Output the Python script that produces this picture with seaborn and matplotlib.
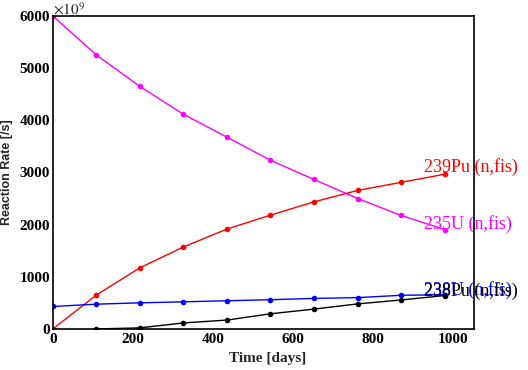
import numpy as np
import pandas as pd
import seaborn as sns
import matplotlib.pyplot as plt
from matplotlib.ticker import MultipleLocator

# burnup steps [days]
days = [0, 109, 217, 326, 435, 543, 652, 761, 870, 978]

# reaction rates in units of 1e9 /s
u235 = [6000, 5250, 4650, 4115, 3675, 3235, 2865, 2500, 2175, 1905]
pu239 = [0, 650, 1170, 1570, 1915, 2180, 2435, 2655, 2810, 2965]
u238 = [430, 475, 500, 520, 540, 560, 585, 600, 645, 655]
pu238_days = days[1:]
pu238 = [0, 20, 115, 170, 290, 380, 480, 555, 640]

names = ['235U (n,fis)', '239Pu (n,fis)', '238U (n,fis)', '238Pu (n,fis)']
colors = ['#ff00ff', '#ff0000', '#0000ff', '#000000']

frames = [
    pd.DataFrame({'Time': days, 'Rate': u235, 'Reaction': names[0]}),
    pd.DataFrame({'Time': days, 'Rate': pu239, 'Reaction': names[1]}),
    pd.DataFrame({'Time': days, 'Rate': u238, 'Reaction': names[2]}),
    pd.DataFrame({'Time': pu238_days, 'Rate': pu238, 'Reaction': names[3]}),
]
df = pd.concat(frames, ignore_index=True)

sns.set_style('white')
plt.rcParams['font.family'] = ['Liberation Serif', 'DejaVu Serif']
plt.rcParams['mathtext.fontset'] = 'stix'

fig = plt.figure(figsize=(5.28, 3.70), dpi=100)
ax = fig.add_axes([0.100, 0.111, 0.798, 0.846])

sns.lineplot(data=df, x='Time', y='Rate', hue='Reaction', hue_order=names,
             palette=dict(zip(names, colors)), marker='o', markersize=4,
             markeredgewidth=0, linewidth=1.0, legend=False, ax=ax)

ax.set_xlim(0, 1052)
ax.set_ylim(0, 6000)
ax.xaxis.set_major_locator(MultipleLocator(200))
ax.xaxis.set_minor_locator(MultipleLocator(50))
ax.yaxis.set_major_locator(MultipleLocator(1000))
ax.yaxis.set_minor_locator(MultipleLocator(200))
ax.tick_params(which='both', direction='in', top=False, right=False, width=1.2,
               colors='black', labelsize=11)
ax.tick_params(axis='y', which='major', length=12, pad=2)
ax.tick_params(axis='y', which='minor', length=6)
ax.tick_params(axis='x', which='major', length=10, pad=3)
ax.tick_params(axis='x', which='minor', length=6)
for lab in ax.get_xticklabels() + ax.get_yticklabels():
    lab.set_fontweight('bold')
for sp in ax.spines.values():
    sp.set_color('black')
    sp.set_linewidth(1.2)

ax.set_xlabel('Time [days]', fontsize=11, fontweight='bold')
ax.xaxis.set_label_coords(0.51, -0.075)
ax.set_ylabel('Reaction Rate [/s]', fontsize=9, fontweight='bold',
              family=['Liberation Sans', 'DejaVu Sans'])
ax.yaxis.set_label_coords(-0.095, 0.5)

ax.text(0.0, 0.995, r'$\times10^{9}$', transform=ax.transAxes, fontsize=11,
        ha='left', va='bottom')

# curve labels
label_y = [2010, 3100, 750, 720]
for name, col, ly in zip(names, colors, label_y):
    ax.text(928, ly, name, color=col, fontsize=13, ha='left', va='center',
            clip_on=False)

fig.savefig('out.png', dpi=100)
